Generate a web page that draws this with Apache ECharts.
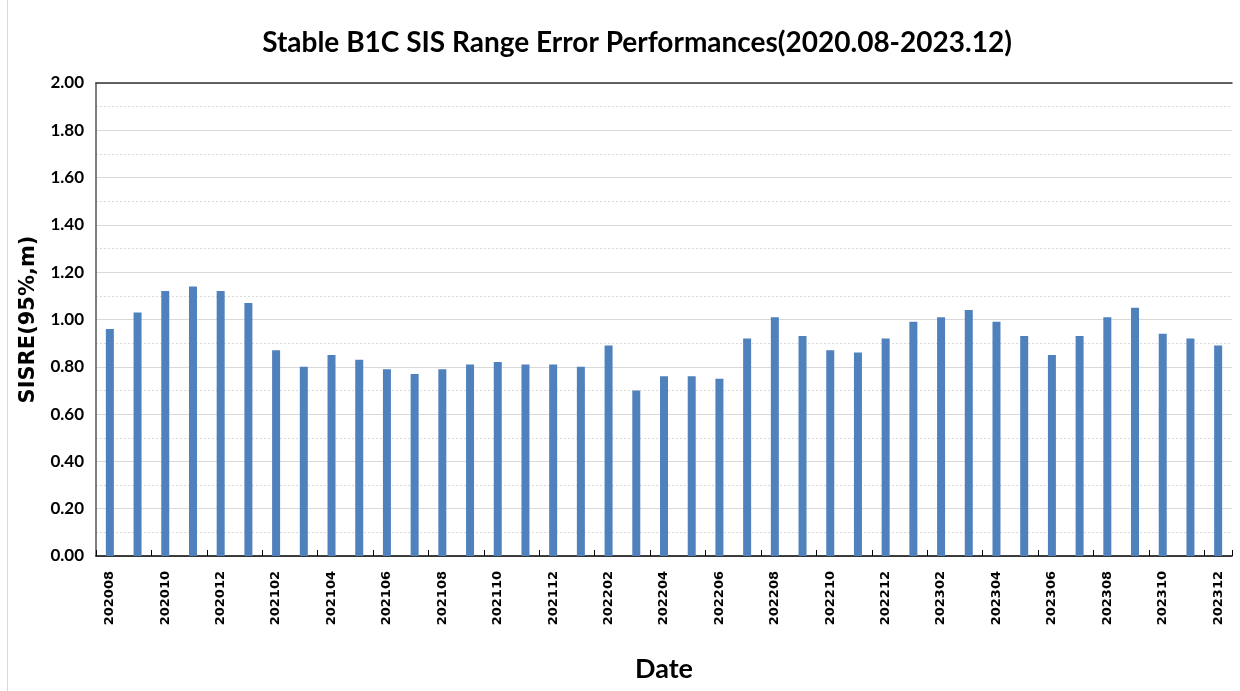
<!DOCTYPE html>
<html>
<head>
<meta charset="utf-8">
<script src="https://cdn.jsdelivr.net/npm/echarts@6/dist/echarts.min.js"></script>
<style>
  html, body { margin: 0; padding: 0; background: #fff; }
  #main { height: 691px; box-sizing: border-box; border-left: 1px solid #d9d9d9; margin-left: 7px; width: 1233px; }
</style>
</head>
<body>
<div id="main"></div>
<script>
// months 202008 .. 202312
var months = [
  "202008", "202009", "202010", "202011", "202012",
  "202101", "202102", "202103", "202104", "202105", "202106",
  "202107", "202108", "202109", "202110", "202111", "202112",
  "202201", "202202", "202203", "202204", "202205", "202206",
  "202207", "202208", "202209", "202210", "202211", "202212",
  "202301", "202302", "202303", "202304", "202305", "202306",
  "202307", "202308", "202309", "202310", "202311", "202312"
];

// SISRE 95% (m)
var sisre = [
  0.96, 1.03, 1.12, 1.14, 1.12,
  1.07, 0.87, 0.80, 0.85, 0.83, 0.79,
  0.77, 0.79, 0.81, 0.82, 0.81, 0.81,
  0.80, 0.89, 0.70, 0.76, 0.76, 0.75,
  0.92, 1.01, 0.93, 0.87, 0.86, 0.92,
  0.99, 1.01, 1.04, 0.99, 0.93, 0.85,
  0.93, 1.01, 1.05, 0.94, 0.92, 0.89
];

var chart = echarts.init(document.getElementById("main"));

var option = {
  animation: false,
  title: {
    text: "Stable B1C SIS Range Error Performances(2020.08-2023.12)",
    left: 624,
    top: 24,
    textAlign: "center",
    textStyle: {
      fontFamily: "Lato",
      fontWeight: "bold",
      fontSize: 28,
      color: "#000"
    }
  },
  grid: {
    left: 88,
    right: 8,
    top: 83,
    bottom: 135
  },
  xAxis: [
    {
      type: "category",
      data: months,
      name: "Date",
      nameLocation: "middle",
      nameGap: 100,
      nameTextStyle: {
        fontFamily: "Lato",
        fontWeight: "bold",
        fontSize: 27,
        color: "#000"
      },
      axisLine: { lineStyle: { color: "#000", width: 1.5 } },
      axisTick: { show: true, inside: true, length: 6, lineStyle: { color: "#000" } },
      axisLabel: {
        interval: 1,
        rotate: 90,
        margin: 15,
        fontFamily: "DejaVu Sans",
        fontWeight: "bold",
        fontSize: 13,
        color: "#000"
      }
    },
    {
      type: "category",
      data: months,
      position: "top",
      axisLine: { show: true, lineStyle: { color: "#333", width: 1.5 } },
      axisTick: { show: false },
      axisLabel: { show: false }
    }
  ],
  yAxis: {
    type: "value",
    min: 0,
    max: 2,
    interval: 0.2,
    name: "SISRE(95%,m)",
    nameLocation: "middle",
    nameGap: 51,
    nameRotate: 90,
    nameTextStyle: {
      fontFamily: "DejaVu Sans",
      fontWeight: "bold",
      fontSize: 21,
      color: "#000"
    },
    axisLine: { show: true, lineStyle: { color: "#555", width: 1.5 } },
    axisTick: { show: false },
    axisLabel: {
      formatter: function (val) {
        return val.toFixed(2);
      },
      fontFamily: "Lato",
      fontWeight: "bold",
      fontSize: 17,
      color: "#000",
      margin: 12
    },
    splitLine: { show: true, lineStyle: { color: "#d9d9d9", width: 1 } },
    minorTick: { show: false, splitNumber: 2 },
    minorSplitLine: { show: true, lineStyle: { color: "#d9d9d9", type: [2, 2], width: 1 } }
  },
  series: [
    {
      type: "bar",
      data: sisre,
      barWidth: 8,
      itemStyle: { color: "#4f81bd" }
    }
  ]
};

chart.setOption(option);
</script>
</body>
</html>
